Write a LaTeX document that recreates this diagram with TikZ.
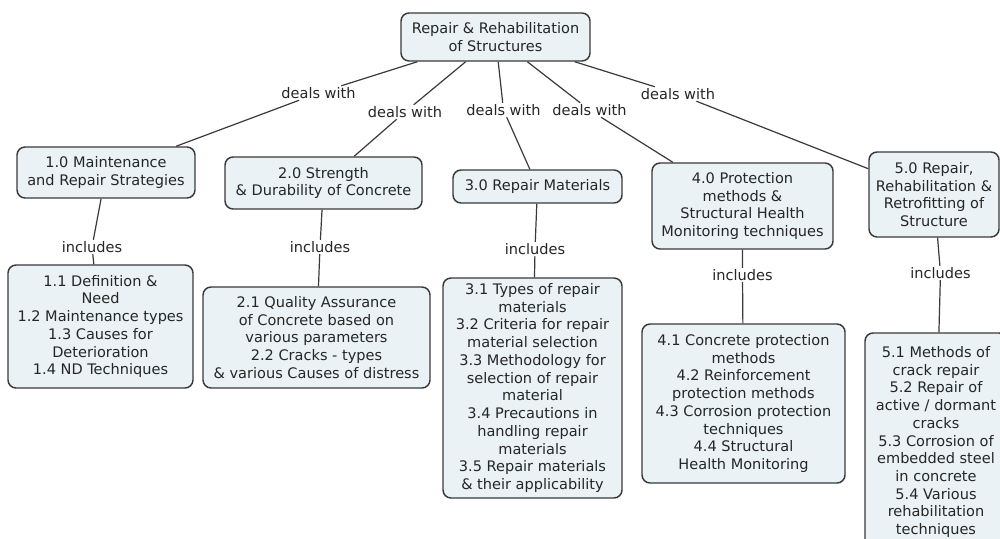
\documentclass[tikz,border=0pt]{standalone}
\usepackage{fontspec}
\setmainfont{DejaVu Sans}
\definecolor{boxfill}{RGB}{234,242,245}
\definecolor{boxline}{RGB}{58,58,58}
\definecolor{ink}{RGB}{38,38,38}
\tikzstyle{concept}=[rectangle,rounded corners=6pt,draw=boxline,fill=boxfill,line width=1.1pt,align=center,inner sep=3pt,text=ink,font=\fontsize{10.9}{13.3}\selectfont]
\tikzstyle{link}=[inner sep=1pt,text=ink,font=\fontsize{10.9}{13.3}\selectfont]
\tikzstyle{edge}=[draw=boxline,line width=0.9pt]

\begin{document}
\begin{tikzpicture}[x=0.75pt,y=-0.75pt]
        \fill [white] (0,0) rectangle (1000,539);
        \useasboundingbox (0,0) rectangle (1000,539);
        \clip (0,0) rectangle (1000,539);

        % top concept
        \node [concept,minimum width=141.75pt,minimum height=36pt] (r) at (495.5,37) {Repair \& Rehabilitation\\of Structures};

        % main topics
        \node [concept,minimum width=133.5pt,minimum height=38.25pt] (m1) at (106,172.5) {1.0 Maintenance\\and Repair Strategies};
        \node [concept,minimum width=147.75pt,minimum height=39pt] (m2) at (323.5,183) {2.0 Strength\\\& Durability of Concrete};
        \node [concept,minimum width=126.75pt,minimum height=24.75pt] (m3) at (537.5,186.5) {3.0 Repair Materials};
        \node [concept,minimum width=135.75pt,minimum height=64.5pt] (m4) at (742.5,206) {4.0 Protection\\methods \&\\Structural Health\\Monitoring techniques};
        \node [concept,minimum width=97.5pt,minimum height=63.75pt] (m5) at (934,194.5) {5.0 Repair,\\Rehabilitation \&\\Retrofitting of\\Structure};

        % sub topics
        \node [concept,minimum width=138.75pt,minimum height=92.25pt] (s1) at (100.5,326.5) {1.1 Definition \&\\Need\\1.2 Maintenance types\\1.3 Causes for\\Deterioration\\1.4 ND Techniques};
        \node [concept,minimum width=170.25pt,minimum height=75.75pt] (s2) at (316.5,337.5) {2.1 Quality Assurance\\of Concrete based on\\various parameters\\2.2 Cracks - types\\\& various Causes of distress};
        \node [concept,minimum width=134.25pt,minimum height=165pt] (s3) at (532.5,388) {3.1 Types of repair\\materials\\3.2 Criteria for repair\\material selection\\3.3 Methodology for\\selection of repair\\material\\3.4 Precautions in\\handling repair\\materials\\3.5 Repair materials\\\& their applicability};
        \node [concept,minimum width=152.25pt,minimum height=119.25pt] (s4) at (743.5,403.5) {4.1 Concrete protection\\methods\\4.2 Reinforcement\\protection methods\\4.3 Corrosion protection\\techniques\\4.4 Structural\\Health Monitoring};
        \node [concept,minimum width=106.5pt,minimum height=163.5pt] (s5) at (936,442) {5.1 Methods of\\crack repair\\5.2 Repair of\\active / dormant\\cracks\\5.3 Corrosion of\\embedded steel\\in concrete\\5.4 Various\\rehabilitation\\techniques};

        % link words
        \node [link] (d1) at (318.5,93) {deals with};
        \node [link] (d2) at (405,112) {deals with};
        \node [link] (d3) at (503.5,110) {deals with};
        \node [link] (d4) at (589.5,110) {deals with};
        \node [link] (d5) at (678,94) {deals with};
        \node [link] (i1) at (92,247) {includes};
        \node [link] (i2) at (320,247) {includes};
        \node [link] (i3) at (535,249) {includes};
        \node [link] (i4) at (742.5,275) {includes};
        \node [link] (i5) at (940.5,273) {includes};

        \path [edge] (r) -- (d1) -- (m1);
        \path [edge] (r) -- (d2) -- (m2);
        \path [edge] (r) -- (d3) -- (m3);
        \path [edge] (r) -- (d4) -- (m4);
        \path [edge] (r) -- (d5) -- (m5);
        \path [edge] (m1) -- (i1) -- (s1);
        \path [edge] (m2) -- (i2) -- (s2);
        \path [edge] (m3) -- (i3) -- (s3);
        \path [edge] (m4) -- (i4) -- (s4);
        \path [edge] (m5) -- (i5) -- (s5);
      \end{tikzpicture}
\end{document}
